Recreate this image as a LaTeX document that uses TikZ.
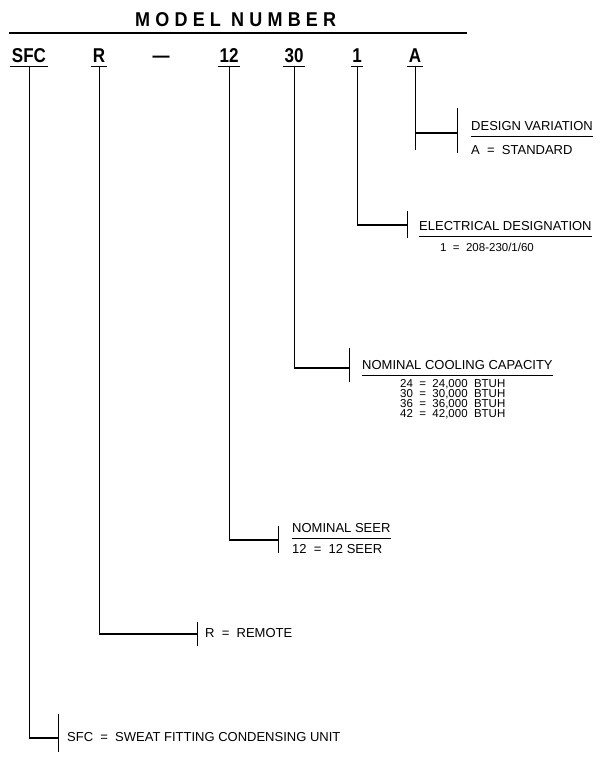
\documentclass[tikz,border=0pt]{standalone}
\usepackage{fontspec}
\setmainfont{Liberation Sans}
\newfontfamily\codefont{Liberation Sans}[FakeStretch=0.85]
\newfontfamily\titlefont{Liberation Sans}[FakeStretch=0.9,LetterSpace=26]
\usepackage{tikz}
\usetikzlibrary{calc}
\newcommand\labelsize{\fontsize{13}{15}\selectfont}
\newcommand\listsize{\fontsize{11.5}{13}\selectfont}
\newcommand\codesize{\codefont\bfseries\fontsize{20}{22}\selectfont}
\newcommand\titlesize{\titlefont\bfseries\fontsize{20}{22}\selectfont}
\tikzset{
    code/.style={
        font=\codesize,
        anchor=south,
        inner xsep=1.5pt,
        inner ysep=3pt,
        text depth=0pt
    }
}
\tikzset{
    heading/.style={
        font=\labelsize,
        anchor=west,
        inner xsep=0pt,
        inner ysep=6pt,
        text height=9.3pt,
        text depth=0pt
    }
}
\tikzset{
    value/.style={
        font=\labelsize,
        anchor=west,
        inner sep=0pt,
        text height=9.3pt,
        text depth=0pt
    }
}
\tikzset{
    listitem/.style={
        value,
        font=\listsize,
        text height=8.2pt
    }
}
\tikzset{
    stem/.style={
        draw=black,
        line width=0.8pt
    }
}
\tikzset{
    lead/.style={
        draw=black,
        line width=1.2pt
    }
}
\tikzset{
    bracket/.style={
        draw=black,
        line width=0.8pt
    }
}
\tikzset{
    rule/.style={
        draw=black,
        line width=0.8pt
    }
}

\begin{document}
\begin{tikzpicture}[
    x=1pt,
    y=-1pt
]
\useasboundingbox (0,0) rectangle (608,767);

% ------------------------------------------------------------
% Title and model number
% ------------------------------------------------------------

\node[font=\titlesize, anchor=west, inner sep=0pt] (title) at (135,20) {MODEL NUMBER};
\coordinate (rulel) at (9,33);
\coordinate (ruler) at (467,33);
\draw[line width=2.6pt] (rulel) -- (ruler);

\node[code] (sfc)  at (29,66)  {SFC};
\node[code] (r)    at (99,66)  {R};
\node[code] (dash) at (161,66) {—};
\node[code] (twelve) at (229,66) {12};
\node[code] (thirty) at (294,66) {30};
\node[code] (one)  at (357,66) {1};
\node[code] (a)    at (415,66) {A};
\draw[rule] (sfc.south west) -- (sfc.south east);
\draw[rule] (r.south west) -- (r.south east);
\draw[rule] (twelve.south west) -- (twelve.south east);
\draw[rule] (thirty.south west) -- (thirty.south east);
\draw[rule] (one.south west) -- (one.south east);
\draw[rule] (a.south west) -- (a.south east);

% ------------------------------------------------------------
% Design variation
% ------------------------------------------------------------

\coordinate (dvbar) at (457,133);
\node[heading] (dv) at (471,125.5) {DESIGN VARIATION};
\draw[rule] (dv.south west) -- (dv.south east);
\node[value] (dvstd) at (471,150) {A~ =~ STANDARD};
\draw[stem] (a.south) -- ++(0,84);
\draw[lead] (a.south |- dvbar) -- (dvbar);
\draw[bracket] ($(dvbar)+(0,-25)$) -- ($(dvbar)+(0,20)$);

% ------------------------------------------------------------
% Electrical designation
% ------------------------------------------------------------

\coordinate (edbar) at (407,225);
\node[heading] (ed) at (419,226) {ELECTRICAL DESIGNATION};
\draw[rule] (ed.south west) -- (ed.south east);
\node[listitem] (edone) at (440,247) {1~ =~ 208-230/1/60};
\draw[stem] (one.south) -- (one.south |- edbar);
\draw[lead] (one.south |- edbar) -- (edbar);
\draw[bracket] ($(edbar)+(0,-14)$) -- ($(edbar)+(0,13)$);

% ------------------------------------------------------------
% Nominal cooling capacity
% ------------------------------------------------------------

\coordinate (ccbar) at (349,368);
\node[heading] (cc) at (362,365) {NOMINAL COOLING CAPACITY};
\draw[rule] (cc.south west) -- (cc.south east);
\node[listitem] (cc24) at (400,383.5) {24~ =~ 24,000~ BTUH};
\node[listitem] (cc30) at (400,393.5) {30~ =~ 30,000~ BTUH};
\node[listitem] (cc36) at (400,403.5) {36~ =~ 36,000~ BTUH};
\node[listitem] (cc42) at (400,413.5) {42~ =~ 42,000~ BTUH};
\draw[stem] (thirty.south) -- (thirty.south |- ccbar);
\draw[lead] (thirty.south |- ccbar) -- (ccbar);
\draw[bracket] ($(ccbar)+(0,-20)$) -- ($(ccbar)+(0,14)$);

% ------------------------------------------------------------
% Nominal SEER
% ------------------------------------------------------------

\coordinate (nsbar) at (278,540);
\node[heading] (ns) at (292,528) {NOMINAL SEER};
\draw[rule] (ns.south west) -- (ns.south east);
\node[value] (nstwelve) at (292,549) {12~ =~ 12 SEER};
\draw[stem] (twelve.south) -- (twelve.south |- nsbar);
\draw[lead] (twelve.south |- nsbar) -- (nsbar);
\draw[bracket] ($(nsbar)+(0,-14)$) -- ($(nsbar)+(0,13)$);

% ------------------------------------------------------------
% Remote
% ------------------------------------------------------------

\coordinate (rmbar) at (197,634);
\node[value] (rm) at (205,633) {R~ =~ REMOTE};
\draw[stem] (r.south) -- (r.south |- rmbar);
\draw[lead] (r.south |- rmbar) -- (rmbar);
\draw[bracket] ($(rmbar)+(0,-12)$) -- ($(rmbar)+(0,12)$);

% ------------------------------------------------------------
% Sweat fitting condensing unit
% ------------------------------------------------------------

\coordinate (sfbar) at (58,738);
\node[value] (sf) at (67,737) {SFC~ =~ SWEAT FITTING CONDENSING UNIT};
\draw[stem] (sfc.south) -- (sfc.south |- sfbar);
\draw[lead] (sfc.south |- sfbar) -- (sfbar);
\draw[bracket] ($(sfbar)+(0,-24)$) -- ($(sfbar)+(0,14)$);

\end{tikzpicture}
\end{document}
